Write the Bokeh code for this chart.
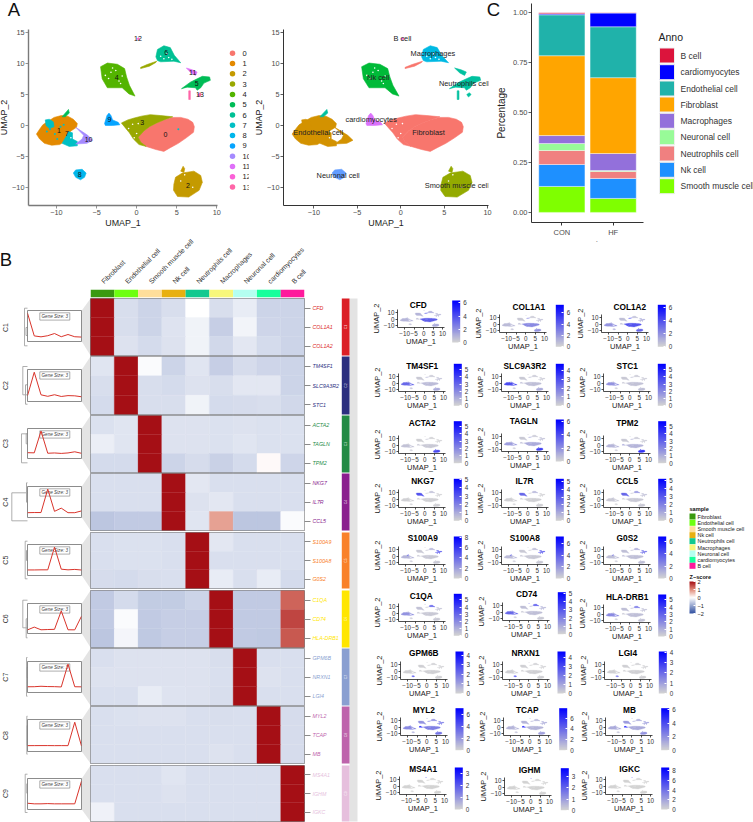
import math
import numpy as np
from bokeh.plotting import figure
from bokeh.models import (Range1d, FactorRange, FixedTicker, LinearColorMapper, ColorBar, ColumnDataSource,
                          Column, AllLabels)
from bokeh.core.properties import value
from bokeh.embed import file_html
from bokeh.resources import INLINE

FONT = "Liberation Sans"

# ---------------------------------------------------------------- UMAP outlines
outline_0 = [(0.2,-1.9),(0.9,-0.9),(1.6,-0.2),(2.5,0.4),(3.4,0.9),(4.4,1.3),(5.5,1.3),(6.4,1.0),(7.0,0.5),(7.2,-0.2),(7.1,-1.1),(6.2,-2.0),(5.2,-2.9),(4.2,-3.6),(3.4,-4.2),(2.4,-3.9),(1.2,-3.4),(0.5,-2.7)]
outline_3 = [(-1.9,0.4),(-1.1,0.9),(-0.3,1.2),(0.6,1.5),(1.7,1.75),(3,1.6),(4.5,1.4),(3.4,0.9),(2.5,0.4),(1.6,-0.2),(0.9,-0.9),(0.2,-1.9),(0.5,-2.7),(1.2,-3.4),(0.3,-3.1),(-0.4,-2.2),(-0.9,-1.2),(-1.4,-0.4)]
outline_3b = [(0.5,9.2),(1.6,9.6),(2.4,10.2),(2.5,10.4),(1.4,9.9),(0.5,9.4)]
outline_1 = [(-12.5,-1.4),(-12.1,-0.6),(-11.7,0.1),(-11,0.7),(-10.3,1.3),(-9.4,1.6),(-8.6,1.5),(-7.9,1.0),(-7.4,0.3),(-7.5,-0.3),(-8.2,-0.9),(-8.6,-1.5),(-9,-2.6),(-9.6,-3.1),(-10.6,-3.2),(-11.5,-2.9),(-12.1,-2.2)]
outline_7 = [(-9.3,-2.9),(-8.8,-1.8),(-8.5,-1),(-8,-1.2),(-8,-2.2),(-7.4,-2.6),(-7.4,-3.3),(-8.4,-3.4)]
outline_7b = [(-11.4,0.9),(-10.9,1.0),(-10.4,0.6),(-10.3,-0.2),(-10.9,-0.5),(-11.3,0)]
outline_10 = [(-7.6,-0.3),(-6.1,-1.6),(-5.5,-2.4),(-6.2,-2.9),(-7.6,-3),(-6.8,-2.2),(-6.6,-1.6)]
outline_9 = [(-4,0.3),(-3.7,1.6),(-3.45,2),(-3.2,1.6),(-3,0.9),(-2.3,0.5),(-2.1,0.1),(-3,0),(-3.9,0)]
outline_8 = [(-7.9,-7.7),(-7.6,-7.2),(-6.8,-7.1),(-6.3,-7.7),(-6.5,-8.4),(-7,-8.8),(-7.6,-8.4)]
outline_2 = [(4.65,-9.5),(4.85,-8.4),(5.7,-7.7),(7.15,-7.4),(8,-8.1),(8.2,-9.2),(7.8,-10.5),(6.5,-11.6),(5.1,-11.5),(4.6,-10.5)]
outline_2b = [(5.5,-7.4),(5.8,-6.6),(6,-7),(5.9,-7.6)]
outline_4 = [(-4.5,9.5),(-3.65,10.1),(-2.4,9.9),(-1.5,9.2),(-1.25,7.85),(-0.9,6.5),(-0.2,4.75),(-0.95,5.1),(-1.8,6.1),(-3.65,6.1),(-4.3,7.55)]
outline_5 = [(5.6,5.95),(6.7,7),(7.55,7.55),(8.2,7.95),(9.1,7.85),(9.2,7.3),(8.4,6.85),(8,6.1),(7.55,5.7),(7.35,6.1),(6.3,6.2)]
outline_5b = [(-9.3,1.4),(-8.5,2.6),(-8.4,2.0),(-8.9,1.4)]
outline_6 = [(2.4,11.1),(2.6,12.3),(3.4,12.9),(4.2,12.6),(4.7,11.35),(5.5,10.15),(4.65,10.4),(3,10.3),(2.6,10.5)]
outline_11 = [(6.2,9.3),(6.95,9),(7.55,8.65),(7.35,8.1),(6.8,8.5)]
outline_12 = [(0.0,14),(0.2,14.2),(0.4,14),(0.2,13.9)]
outline_13 = [(7.6,5),(7.9,5.3),(8.1,5),(7.8,4.6)]
outline_13b = [(6.5,5.6),(6.7,5.6),(6.7,4.2),(6.5,4.2)]

gap_x = [-3.2,-2.6,-3.5,-2.2,-1.8,-3.0,-2.0,-3.9,3.4,4.0,3.0,3.8,4.4,-1.0,-0.5,0.0,-0.3,0.2,-8.2,-7.8,6.0,5.5,7.0]
gap_y = [8.6,8.9,7.6,7.2,8.0,9.3,6.8,8.1,10.8,11.0,11.2,11.6,10.7,-0.5,0.2,-1.3,-2.0,0.3,-2.0,-1.5,-8.0,-9.0,-10.0]
speck7_x = [-10.8,-9.5,-10.2,-9.1,-11.2,-9.9,5.2,-10.5]
speck7_y = [-0.6,-0.2,-1.4,0.1,-1.0,-2.2,-0.6,0.3]

cluster_ids = [0,3,3,1,7,7,10,9,8,2,2,4,5,5,6,11,12,13,13]
cluster_outlines = [outline_0,outline_3,outline_3b,outline_1,outline_7,outline_7b,outline_10,outline_9,outline_8,
                    outline_2,outline_2b,outline_4,outline_5,outline_5b,outline_6,outline_11,outline_12,outline_13,outline_13b]
cluster_colors = ["#F8766D","#E38900","#C49A00","#99A800","#53B400","#00BC56","#00C094","#00BFC4","#00B6EB","#06A4FF","#A58AFF","#DF70F8","#FB61D7","#FF66A8"]
cluster_labels = [str(i) for i in range(14)]
cluster_text = ["12","6","11","4","5","13","9","3","0","1","7","10","8","2"]
cluster_text_x = [0.17,3.7,7.0,-2.5,7.5,7.9,-3.4,0.7,3.6,-9.7,-8.7,-6.0,-7.1,6.4]
cluster_text_y = [14,11.8,8.6,7.8,6.8,5,0.9,0.5,-1.4,-0.8,-1.3,-2.3,-8,-9.7]

anno_names = ["Fibroblast","Endothelial cell","Smooth muscle cell","Nk cell","Neutrophils cell","Macrophages","Neuronal cell","cardiomyocytes","B cell"]
anno_colors = ["#F8766D","#D39200","#93AA00","#00BA38","#00C19F","#00B9E3","#619CFF","#DB72FB","#FF61C3"]
anno_of_cluster = {0:0,3:0,1:1,7:1,10:1,2:2,4:3,5:4,11:4,13:4,6:5,8:6,9:7,12:8}
anno_text_x = [3.2,-9.5,6.45,-2.6,7.3,3.7,-7.2,-3.4,0.2]
anno_text_y = [-1.1,-1.1,-9.7,7.8,6.8,11.6,-8.1,0.9,14]

# ---------------------------------------------------------------- panel C
bar_groups = ["CON","HF"]
bar_names = ["Smooth muscle cell","Nk cell","Neutrophils cell","Neuronal cell","Macrophages","Fibroblast","Endothelial cell","cardiomyocytes","B cell"]
bar_colors = ["#7FFF00","#1E90FF","#F08080","#98FB98","#9370DB","#FFA500","#20B2AA","#0000FF","#DC143C"]
share_smooth = [0.13,0.07]
share_nk = [0.11,0.10]
share_neutro = [0.07,0.035]
share_neuronal = [0.035,0.005]
share_macro = [0.04,0.085]
share_fibro = [0.40,0.38]
share_endo = [0.205,0.255]
share_cardio = [0.005,0.069]
share_b = [0.005,0.001]
anno_legend = ["B cell","cardiomyocytes","Endothelial cell","Fibroblast","Macrophages","Neuronal cell","Neutrophils cell","Nk cell","Smooth muscle cell"]
anno_legend_colors = ["#DC143C","#0000FF","#20B2AA","#FFA500","#9370DB","#98FB98","#F08080","#1E90FF","#7FFF00"]

# ---------------------------------------------------------------- panel B heatmap
heat_columns = anno_names
strip_colors = ["#3A9A10","#6EFF10","#FFDE9A","#E8B010","#12C98F","#F7F77A","#B4FFF0","#18FF9C","#FF1A9C"]
group_names = ["C1","C2","C3","C4","C5","C6","C7","C8","C9"]
group_colors = ["#DB1F26","#2B2F7F","#238B45","#8B1F8F","#F9812A","#FFE600","#8A9FD1","#BE64AC","#E6BFDD"]
genes_c1 = ["CFD","COL1A1","COL1A2"]
genes_c2 = ["TM4SF1","SLC9A3R2","STC1"]
genes_c3 = ["ACTA2","TAGLN","TPM2"]
genes_c4 = ["NKG7","IL7R","CCL5"]
genes_c5 = ["S100A9","S100A8","G0S2"]
genes_c6 = ["C1QA","CD74","HLA-DRB1"]
genes_c7 = ["GPM6B","NRXN1","LGI4"]
genes_c8 = ["MYL2","TCAP","MB"]
genes_c9 = ["MS4A1","IGHM","IGKC"]
genes = [genes_c1,genes_c2,genes_c3,genes_c4,genes_c5,genes_c6,genes_c7,genes_c8,genes_c9]
z_c1 = [[2.2,-0.39,-0.5,-0.39,0.0,-0.39,-0.22,-0.5,-0.5],[2.2,-0.39,-0.5,-0.32,-0.15,-0.55,-0.13,-0.47,-0.5],[2.2,-0.33,-0.42,-0.33,-0.15,-0.44,-0.28,-0.42,-0.5]]
z_c2 = [[-0.3,2.2,-0.05,-0.5,-0.3,-0.55,-0.4,-0.48,-0.5],[-0.38,2.2,-0.38,-0.42,-0.33,-0.38,-0.27,-0.28,-0.5],[-0.42,2.2,-0.38,-0.38,-0.15,-0.42,-0.4,-0.38,-0.45]]
z_c3 = [[-0.35,-0.3,2.2,-0.33,-0.33,-0.35,-0.33,-0.35,-0.35],[-0.2,-0.3,2.2,-0.33,-0.33,-0.35,-0.3,-0.35,-0.35],[-0.42,-0.42,2.2,-0.5,-0.4,-0.52,-0.42,0.05,-0.48]]
z_c4 = [[-0.36,-0.36,-0.36,2.2,-0.28,-0.36,-0.36,-0.36,-0.36],[-0.36,-0.36,-0.36,2.2,-0.33,-0.27,-0.36,-0.36,-0.36],[-0.65,-0.6,-0.6,2.2,-0.3,0.8,-0.65,-0.65,-0.05]]
z_c5 = [[-0.36,-0.35,-0.35,-0.36,2.2,-0.28,-0.36,-0.36,-0.36],[-0.36,-0.35,-0.35,-0.36,2.2,-0.36,-0.36,-0.36,-0.36],[-0.4,-0.42,-0.38,-0.36,2.2,-0.22,-0.36,-0.22,-0.42]]
z_c6 = [[-0.6,-0.42,-0.58,-0.58,-0.5,2.2,-0.6,-0.6,1.3],[-0.6,-0.06,-0.6,-0.55,-0.55,2.2,-0.6,-0.6,1.55],[-0.65,-0.12,-0.62,-0.55,-0.55,2.2,-0.6,-0.62,1.4]]
z_c7 = [[-0.36,-0.34,-0.33,-0.33,-0.34,-0.38,2.2,-0.36,-0.36],[-0.34,-0.34,-0.34,-0.34,-0.34,-0.36,2.2,-0.33,-0.36],[-0.36,-0.36,-0.22,-0.32,-0.34,-0.38,2.2,-0.36,-0.36]]
z_c8 = [[-0.36,-0.35,-0.34,-0.34,-0.36,-0.38,-0.36,2.2,-0.4],[-0.36,-0.36,-0.36,-0.36,-0.36,-0.36,-0.36,2.2,-0.4],[-0.36,-0.36,-0.36,-0.36,-0.36,-0.33,-0.36,2.2,-0.4]]
z_c9 = [[-0.36,-0.36,-0.36,-0.3,-0.36,-0.36,-0.36,-0.36,2.2],[-0.36,-0.36,-0.36,-0.34,-0.36,-0.36,-0.36,-0.36,2.2],[-0.16,-0.36,-0.36,-0.36,-0.36,-0.36,-0.36,-0.36,2.2]]
z_values = [z_c1,z_c2,z_c3,z_c4,z_c5,z_c6,z_c7,z_c8,z_c9]
sample_colors = strip_colors
z_ticks = [-2,-1,0,1,2]

# ---------------------------------------------------------------- panel B feature plots
feature_genes = ["CFD","COL1A1","COL1A2","TM4SF1","SLC9A3R2","STC1","ACTA2","TAGLN","TPM2","NKG7","IL7R","CCL5","S100A9","S100A8","G0S2","C1QA","CD74","HLA-DRB1","GPM6B","NRXN1","LGI4","MYL2","TCAP","MB","MS4A1","IGHM","IGKC"]
feature_max = [6.36,7.44,6.36,5.79,4.76,5.79,5.73,6.25,5.73,5.12,5.3,5.2,8.13,7.27,6.8,5.84,5.2,5.73,4.39,4.63,4.07,7.0,7.9,6.2,3.54,3.75,8.7]
feature_ticks = [[0,2,4,6],[0,2,4,6],[0,2,4,6],[0,1,2,3,4,5],[0,1,2,3,4],[0,1,2,3,4,5],[0,1,2,3,4,5],[0,2,4,6],[0,1,2,3,4,5],[0,1,2,3,4,5],[0,1,2,3,4,5],[0,1,2,3,4,5],[0,2,4,6,8],[0,2,4,6],[0,2,4,6],[0,1,2,3,4,5],[0,1,2,3,4,5],[0,1,2,3,4,5],[0,1,2,3,4],[0,1,2,3,4],[0,1,2,3,4],[0,2,4,6],[0,2,4,6],[0,2,4,6],[0,1,2,3],[0,1,2,3],[0,2,4,6,8]]
# share of the gene's maximum shown by each annotated population
feature_level = [
 [.55,.15,.2,.15,.15,.2,.1,.1,.1],[.35,.12,.3,.05,.1,.05,.1,.1,.05],[.6,.3,.5,.1,.2,.1,.2,.1,.05],
 [.12,.5,.2,.05,.1,.05,.1,.05,.05],[.1,.65,.2,.05,.05,.05,.1,.1,.05],[.08,.3,.1,.05,.05,.05,.05,.05,.05],
 [.05,.08,.65,.03,.03,.03,.05,.05,.03],[.2,.25,.7,.05,.1,.05,.05,.1,.05],[.15,.15,.75,.05,.05,.05,.05,.2,.05],
 [.02,.02,.02,.6,.03,.1,.02,.02,.02],[.02,.02,.02,.5,.03,.15,.02,.02,.02],[.05,.05,.05,.5,.1,.3,.03,.03,.1],
 [.05,.15,.05,.05,.6,.15,.05,.05,.05],[.05,.12,.05,.05,.6,.12,.05,.05,.05],[.1,.1,.1,.1,.5,.2,.05,.1,.05],
 [.05,.3,.05,.08,.08,.55,.05,.05,.2],[.1,.5,.05,.1,.15,.6,.05,.05,.5],[.1,.35,.08,.1,.1,.45,.05,.05,.3],
 [.02,.02,.02,.02,.02,.02,.65,.02,.02],[.02,.02,.02,.02,.02,.02,.65,.02,.02],[.02,.02,.02,.02,.02,.02,.5,.02,.02],
 [.4,.35,.45,.3,.45,.35,.2,.9,.3],[.15,.15,.25,.15,.2,.15,.1,.9,.15],[.2,.2,.3,.25,.25,.2,.1,.9,.2],
 [.01,.01,.01,.01,.01,.01,.01,.01,.7],[.01,.01,.01,.01,.01,.01,.01,.01,.5],[.01,.01,.01,.01,.01,.01,.01,.01,.5]]

# ---------------------------------------------------------------- page geometry (pixels, not data)
# xl, yb, title x, title y, bar x, bar top
FEATURE_BOX = [
 (396.7,327.3,417.7,304,451.7,300),(499.3,331.7,528.3,306,555.3,304.3),(601.3,331.7,629.3,306,657.3,304.3),
 (398.3,391,421.7,365.3,453.3,363.3),(500.7,391,524.3,365.3,555.3,363.3),(603.3,391,626.7,365.3,657.3,363.3),
 (398.3,452.7,421.7,422.3,453.3,420.7),(500.7,450.7,523.3,420.7,555.3,419),(603.3,452.7,626.7,422.3,657.7,420.7),
 (398.3,506.7,422.3,480,453.3,478.3),(500.7,506.7,524,480,555.3,478.3),(603.3,506.7,626.7,480,657.7,478.3),
 (398.3,563.7,422.3,537.3,453.3,536),(500.7,563.7,524.3,537.3,555.3,536),(603.3,563.7,626.7,537.3,657.7,536),
 (398.3,621.3,420.7,595,453.3,593.3),(501.7,619.7,526,593.3,557.3,591.7),(603.3,622,626.7,596,657.7,594),
 (400,678.7,423.3,652.3,455,651),(502.3,678.7,525,652.3,557,651),(604,678.7,627.3,652.3,658.3,651),
 (400,735.3,423.3,709,455,707.7),(503.3,735.3,526.7,709,558.7,707.7),(605,735.3,629,709,660.7,707.7),
 (399.3,794,422.7,768.7,454.3,767),(504.3,794.7,529,769.3,560.3,767.7),(605,794,629,768.7,660.7,767)]
HEAT_Y = [(298,355),(356,414),(415,472),(473,530),(532,588),(590,647),(648,705),(706,763),(765,821)]
LINE_Y = [(310,341),(369,401),(428,458),(486,517),(544,575),(603,633),(661,692),(719,751),(778,809)]
GROUP_LABEL_Y = [327,385,443,501.7,559.7,618.3,676.7,735,793]
DENDRO = [(24,307.7,345.3,25.5,327,335),(22.3,366,394.3,25,384.3,403.7),(21,433.3,462.3,25.7,433.3,443.3),
          (11.3,492.3,520.3,26,482.3,501.7),(24.7,540.7,578.3,26,550,560),(22.3,599.7,627.3,25.7,618.3,637.3),
          (26,657,695.7,26,667,677),(26.3,715.7,753.7,26.5,725,745),(24.7,773.7,812,26.3,783.3,792.7)]
LINE_YRANGE = [(-1,2.5)]*5 + [(-1.15,3.3)] + [(-1,2.5)]*3
LEFT_PAD = 50

all_figs = []

def place(p, x0, y0):
    p.styles = {"position": "absolute", "left": f"{x0}px", "top": f"{y0}px"}
    all_figs.append(p)
    return p

def panel(l, t, r, b, x_range, y_range, T=2, B=2, R=14, **kw):
    """figure whose frame sits at page pixels l,t,r,b"""
    p = figure(width=int(LEFT_PAD + r - l + R), height=int(T + b - t + B), frame_width=int(r - l), frame_height=int(b - t),
               x_range=x_range, y_range=y_range, min_border_left=LEFT_PAD, min_border_right=R,
               min_border_top=T, min_border_bottom=B, toolbar_location=None, output_backend="svg",
               background_fill_color=None, border_fill_color=None, outline_line_color=None, **kw)
    p.grid.visible = False
    return place(p, l - LEFT_PAD, t - T)

def style_axis(ax, label, ticks, size, lab_size, line="#333333", width=1.0, tcolor="#4D4D4D", standoff=1, lab_standoff=1, tick=3):
    ax.ticker = FixedTicker(ticks=ticks)
    ax.major_label_overrides = {t: str(t).replace("-", "\u2212") for t in ticks}
    ax.axis_label = label
    ax.axis_label_text_font = FONT
    ax.axis_label_text_font_style = "normal"
    ax.axis_label_text_font_size = f"{lab_size}px"
    ax.axis_label_text_color = "#222222"
    ax.axis_label_standoff = lab_standoff
    ax.major_label_text_font = FONT
    ax.major_label_text_font_size = f"{size}px"
    ax.major_label_text_color = tcolor
    ax.major_label_standoff = standoff
    ax.axis_line_color = line
    ax.axis_line_width = width
    ax.major_tick_line_color = line
    ax.major_tick_line_width = 0.8
    ax.major_tick_out = tick
    ax.major_tick_in = 0
    ax.minor_tick_line_color = None

def xy(outline):
    return [q[0] for q in outline], [q[1] for q in outline]

poly_xs = [xy(o)[0] for o in cluster_outlines]
poly_ys = [xy(o)[1] for o in cluster_outlines]

# ---------------------------------------------------------------- two overlays (page-pixel scales) for the free-standing furniture
def overlay(x_a, x_b, right):
    o = figure(width=LEFT_PAD + (x_b - x_a) + right, height=822, frame_width=x_b - x_a, frame_height=822, x_range=Range1d(x_a, x_b), y_range=Range1d(822, 0),
               x_axis_type=None, y_axis_type=None, min_border=0, min_border_left=LEFT_PAD, min_border_right=right,
               toolbar_location=None, output_backend="svg", background_fill_color=None, border_fill_color=None, outline_line_color=None)
    o.grid.visible = False
    place(o, x_a - LEFT_PAD, 0)
    return o

ovL = overlay(0, 370, 8)
ovR = overlay(370, 753, 0)

def T(ov, x, y, text, size, color="#222222", style="normal", align="left", baseline="middle", angle=0.0, alpha=1.0):
    ov.text(x=x, y=y, text=text, text_font=value(FONT), text_font_size=value(f"{size}px"), text_color=color,
            text_font_style=style, text_align=align, text_baseline=baseline, angle=angle, text_alpha=alpha)

T(ovL, [13.5, 5.5], [9, 259], ["A", "B"], 18.5, "#111111", align="center")
T(ovR, [493], [9], ["C"], 18.5, "#111111", align="center")

# A1 legend, cut off by the neighbouring panel as in the source
lg_y = [52.7 + 10.3 * i for i in range(14)]
ovL.scatter(x=[232] * 14, y=lg_y, size=5.5, color=cluster_colors, line_color=None)
T(ovL, [242] * 14, lg_y, cluster_labels, 7.5)
ovL.quad(left=[248.3], right=[258], top=[45], bottom=[195], color="white", line_color=None)

# C legend and clipped axis title
c_y = [55, 71.7, 88, 104, 120.3, 136.7, 153, 169.3, 185.7]
ovR.rect(x=[666.5] * 9, y=c_y, width=15, height=15, color=anno_legend_colors, line_color="#EEEEEE")
T(ovR, [680] * 9, c_y, anno_legend, 8.5, "#333333")
T(ovR, [658], [36.7], ["Anno"], 10.5)
T(ovR, [587], [244.5], ["sample"], 10, align="center")
ovR.quad(left=[560], right=[620], top=[241], bottom=[252], color="white", line_color=None)

# B left side: connectors, strips, labels, dendrograms
for i in range(9):
    ya, yb = LINE_Y[i]; ha, hb = HEAT_Y[i]
    ovL.patch([81.3, 90, 90, 81.3], [ya, ha, hb, yb], color="#E4E4E4", line_color=None)
    ovL.quad(left=[39.3], right=[69.3], top=[ya + 2.3], bottom=[ya + 9.6], fill_color="white", line_color="#777777", line_width=0.6)
ovL.quad(left=[349], right=[357], top=[298], bottom=[821], color="#E3E3E3", line_color=None)
ovL.quad(left=[341.3] * 9, right=[349] * 9, top=[h[0] for h in HEAT_Y], bottom=[h[1] for h in HEAT_Y], color=group_colors, line_color=None)
T(ovL, [345.2] * 9, [(h[0] + h[1]) / 2 for h in HEAT_Y], group_names, 3.5, "white", align="center", angle=math.pi / 2, alpha=0.8)
T(ovL, [54.3] * 9, [y[0] + 6 for y in LINE_Y], ["Gene Size: 3"] * 9, 4.6, "#444444", style="italic", align="center")
T(ovL, [5] * 9, GROUP_LABEL_Y, group_names, 7, "#333333", align="center", angle=math.pi / 2)
ovL.multi_line(xs=[[27, d[0], d[0], 27] for d in DENDRO], ys=[[d[1], d[1], d[2], d[2]] for d in DENDRO], line_color="#9A9A9A", line_width=0.8)
ovL.multi_line(xs=[[27, d[3], d[3], 27] for d in DENDRO], ys=[[d[4], d[4], d[5], d[5]] for d in DENDRO], line_color="#A8A8A8", line_width=1.0)

# sample legend
s_y = [516, 522.3, 528.7, 534.7, 540.7, 547, 553, 559.3, 565.3]
ovR.rect(x=[692] * 9, y=s_y, width=6, height=6, color=sample_colors, line_color=None)
T(ovR, [697] * 9, s_y, heat_columns, 5.4, "#222222")
T(ovR, [689], [508], ["sample"], 5.6, "#111111", style="bold")
T(ovR, [689], [576.7], ["Z\u2212score"], 5.6, "#111111", style="bold")

# feature titles
T(ovR, [b[2] for b in FEATURE_BOX], [b[3] for b in FEATURE_BOX], feature_genes, 8.3, "#000000", style="bold", align="center")

# Z colour scale shared by the heat map and its key
def ramp(stops, n):
    pts = np.array([[int(c[k:k + 2], 16) for k in (1, 3, 5)] for c in stops], float)
    pos = np.linspace(0, len(stops) - 1, n)
    out = []
    for q in pos:
        i = min(int(q), len(stops) - 2)
        c = pts[i] + (pts[i + 1] - pts[i]) * (q - i)
        out.append("#%02X%02X%02X" % tuple(int(round(v)) for v in c))
    return out

Z_PAL = ramp(["#2F4FA0", "#FFFFFF"], 128) + ramp(["#FFFFFF", "#E08A78", "#A50F15"], 128)
z_map = LinearColorMapper(palette=Z_PAL, low=-2, high=2)
zbar = ColorBar(color_mapper=z_map, ticker=FixedTicker(ticks=z_ticks), width=6, height=32, location=(689 - 370, 822 - 613),
                margin=0, padding=0, label_standoff=2, major_label_text_font=FONT, major_label_text_font_size="5.6px",
                major_label_text_color="#222222", major_tick_line_color="white", major_tick_out=0, major_tick_in=2,
                major_label_overrides={-2: "\u22122", -1: "\u22121"}, bar_line_color=None, title=None,
                background_fill_color=None, border_line_color=None, minor_tick_line_color=None, major_label_policy=AllLabels())
ovR.add_layout(zbar, "center")

# ---------------------------------------------------------------- A panels
XT, YT = [-10, -5, 0, 5, 10], [-10, -5, 0, 5, 10, 15]
a1 = panel(28, 29, 217, 205, Range1d(-13.49, 10.09), Range1d(-12.96, 15.53), T=7, B=27)
src = ColumnDataSource(dict(xs=poly_xs, ys=poly_ys, c=[cluster_colors[k] for k in cluster_ids]))
a1.patches("xs", "ys", source=src, fill_color="c", line_color="c", line_width=0.6)
a1.scatter(x=speck7_x, y=speck7_y, size=2, color=cluster_colors[7], line_color=None)
a1.scatter(x=gap_x, y=gap_y, size=1.6, color="white", line_color=None)
a1.text(x=cluster_text_x, y=cluster_text_y, text=cluster_text, text_font=value(FONT), text_font_size=value("7px"),
        text_align="center", text_baseline="middle", text_color="#111111")
style_axis(a1.xaxis[0], "UMAP_1", XT, 7.3, 8.9, "#7A7A7A", 1.4, standoff=1, lab_standoff=0)
style_axis(a1.yaxis[0], "UMAP_2", YT, 7.3, 8.9, "#7A7A7A", 1.4, standoff=1, lab_standoff=0)

a2 = panel(283, 29, 488, 205, Range1d(-13.49, 10.1), Range1d(-12.96, 15.53), T=7, B=27)
src2 = ColumnDataSource(dict(xs=poly_xs, ys=poly_ys, c=[anno_colors[anno_of_cluster[k]] for k in cluster_ids]))
a2.patches("xs", "ys", source=src2, fill_color="c", line_color="c", line_width=0.6)
a2.scatter(x=gap_x, y=gap_y, size=1.6, color="white", line_color=None)
a2.text(x=anno_text_x, y=anno_text_y, text=anno_names, text_font=value(FONT), text_font_size=value("7.4px"),
        text_align="center", text_baseline="middle", text_color="#222222")
style_axis(a2.xaxis[0], "UMAP_1", XT, 7.3, 8.9, "#333333", 1.0, standoff=1, lab_standoff=0)
style_axis(a2.yaxis[0], "UMAP_2", YT, 7.3, 8.9, "#333333", 1.0, standoff=1, lab_standoff=0)

# ---------------------------------------------------------------- C panel
c = panel(531, 3, 643, 222, FactorRange(factors=bar_groups, range_padding=0.0915), Range1d(-0.0506, 1.0466), T=3, B=19)
shares = dict(group=bar_groups, **{n: v for n, v in zip(bar_names, [share_smooth, share_nk, share_neutro, share_neuronal, share_macro, share_fibro, share_endo, share_cardio, share_b])})
c.vbar_stack(bar_names, x="group", width=0.9, color=bar_colors, line_color="white", line_width=0.4, source=ColumnDataSource(shares))
ya = c.yaxis[0]
style_axis(ya, "Percentage", [0, 0.25, 0.5, 0.75, 1.0], 7.5, 10, "#333333", 1.0, standoff=1, lab_standoff=3)
ya.major_label_overrides = {0: "0.00", 0.25: "0.25", 0.5: "0.50", 0.75: "0.75", 1.0: "1.00"}
xa = c.xaxis[0]
xa.major_label_text_font = FONT
xa.major_label_text_font_size = "7.5px"
xa.major_label_text_color = "#4D4D4D"
xa.axis_line_color = "#333333"
xa.major_tick_line_color = "#333333"
xa.major_tick_out = 3
xa.major_tick_in = 0
xa.major_label_standoff = 2

# ---------------------------------------------------------------- B heat map
strip = panel(90, 289, 304, 297, FactorRange(factors=heat_columns, factor_padding=0, range_padding=0), Range1d(0, 1), T=64, B=1, R=36, x_axis_location="above", y_axis_type=None)
strip.vbar(x=heat_columns, top=1, bottom=0, width=1, color=strip_colors, line_color=None)
sx = strip.xaxis[0]
sx.major_label_orientation = math.pi / 4
sx.major_label_text_font = FONT
sx.major_label_text_font_size = "6.9px"
sx.major_label_text_color = "#333333"
sx.axis_line_color = None
sx.major_tick_line_color = None
sx.major_label_standoff = 1

for g in range(9):
    ha, hb = HEAT_Y[g]
    h = panel(90, ha, 304, hb, Range1d(0, 9), Range1d(3, 0), T=1, B=1, R=48, x_axis_type=None, y_axis_location="right")
    xx, yy, zz = [], [], []
    for r in range(3):
        for k in range(9):
            xx.append(k + 0.5); yy.append(r + 0.5); zz.append(z_values[g][r][k])
    s = ColumnDataSource(dict(x=xx, y=yy, z=zz))
    h.rect("x", "y", width=1, height=1, source=s, fill_color={"field": "z", "transform": z_map},
           line_color={"field": "z", "transform": z_map}, line_width=0.3)
    h.outline_line_color = "#7F7F7F"
    h.outline_line_width = 1
    ax = h.yaxis[0]
    ax.ticker = FixedTicker(ticks=[0.5, 1.5, 2.5])
    ax.major_label_overrides = {0.5: genes[g][0], 1.5: genes[g][1], 2.5: genes[g][2]}
    ax.major_label_text_font = FONT
    ax.major_label_text_font_size = "5.3px"
    ax.major_label_text_font_style = "italic"
    ax.major_label_text_color = group_colors[g]
    ax.major_label_standoff = 2
    ax.axis_line_color = None
    ax.major_tick_line_color = "#8A8A8A"
    ax.major_tick_out = 6
    ax.major_tick_in = 0
    ax.minor_tick_line_color = None

    ya_, yb_ = LINE_Y[g]
    ln = panel(27, ya_, 81, yb_, Range1d(1, 9), Range1d(*LINE_YRANGE[g]), T=1, B=1, x_axis_type=None, y_axis_type=None)
    ln.line(x=list(range(1, 10)), y=np.mean(z_values[g], axis=0).tolist(), line_color="#D9342B", line_width=1.0)
    ln.outline_line_color = "#7F7F7F"
    ln.outline_line_width = 0.9

# ---------------------------------------------------------------- B feature plots
FP_PAL = ramp(["#D3D3D3", "#0000FF"], 64)
anno_poly_level = [anno_of_cluster[k] for k in cluster_ids]
for i, gene in enumerate(feature_genes):
    xl, yb, _, _, cbx, cbt = FEATURE_BOX[i]
    xl_i, yb_i = int(round(xl)), int(round(yb))
    m = LinearColorMapper(palette=FP_PAL, low=0, high=feature_max[i])
    f = panel(xl_i, yb_i - 18, xl_i + 47, yb_i, Range1d(-13.8, 11), Range1d(-13, 15.5), T=16, B=24, R=int(cbx) + 24 - (xl_i + 47))
    v = [feature_level[i][a] * feature_max[i] for a in anno_poly_level]
    f.patches("xs", "ys", source=ColumnDataSource(dict(xs=poly_xs, ys=poly_ys, v=v)),
              fill_color={"field": "v", "transform": m}, line_color={"field": "v", "transform": m}, line_width=0.3)
    style_axis(f.xaxis[0], "UMAP_1", [-10, -5, 0, 5, 10], 6.3, 7.5, "#222222", 0.8, "#333333", standoff=1, lab_standoff=-2, tick=2)
    style_axis(f.yaxis[0], "UMAP_2", [-10, 0, 10], 6.3, 7.5, "#222222", 0.8, "#333333", standoff=1, lab_standoff=0, tick=2)
    cb = ColorBar(color_mapper=m, ticker=FixedTicker(ticks=feature_ticks[i]), width=8, height=42,
                  location=(cbx - xl_i, yb_i - (cbt + 42)), margin=0, padding=0, label_standoff=3,
                  major_label_text_font=FONT, major_label_text_font_size="6.3px", major_label_text_color="#333333",
                  major_tick_line_color="white", major_tick_out=0, major_tick_in=2, minor_tick_line_color=None,
                  bar_line_color=None, title=None, background_fill_color=None, border_line_color=None, major_label_policy=AllLabels())
    f.add_layout(cb, "center")

root = Column(children=all_figs, width=745, height=822, styles={"position": "relative", "margin-bottom": "-16px"})
open("out.html", "w").write(file_html(root, INLINE))
